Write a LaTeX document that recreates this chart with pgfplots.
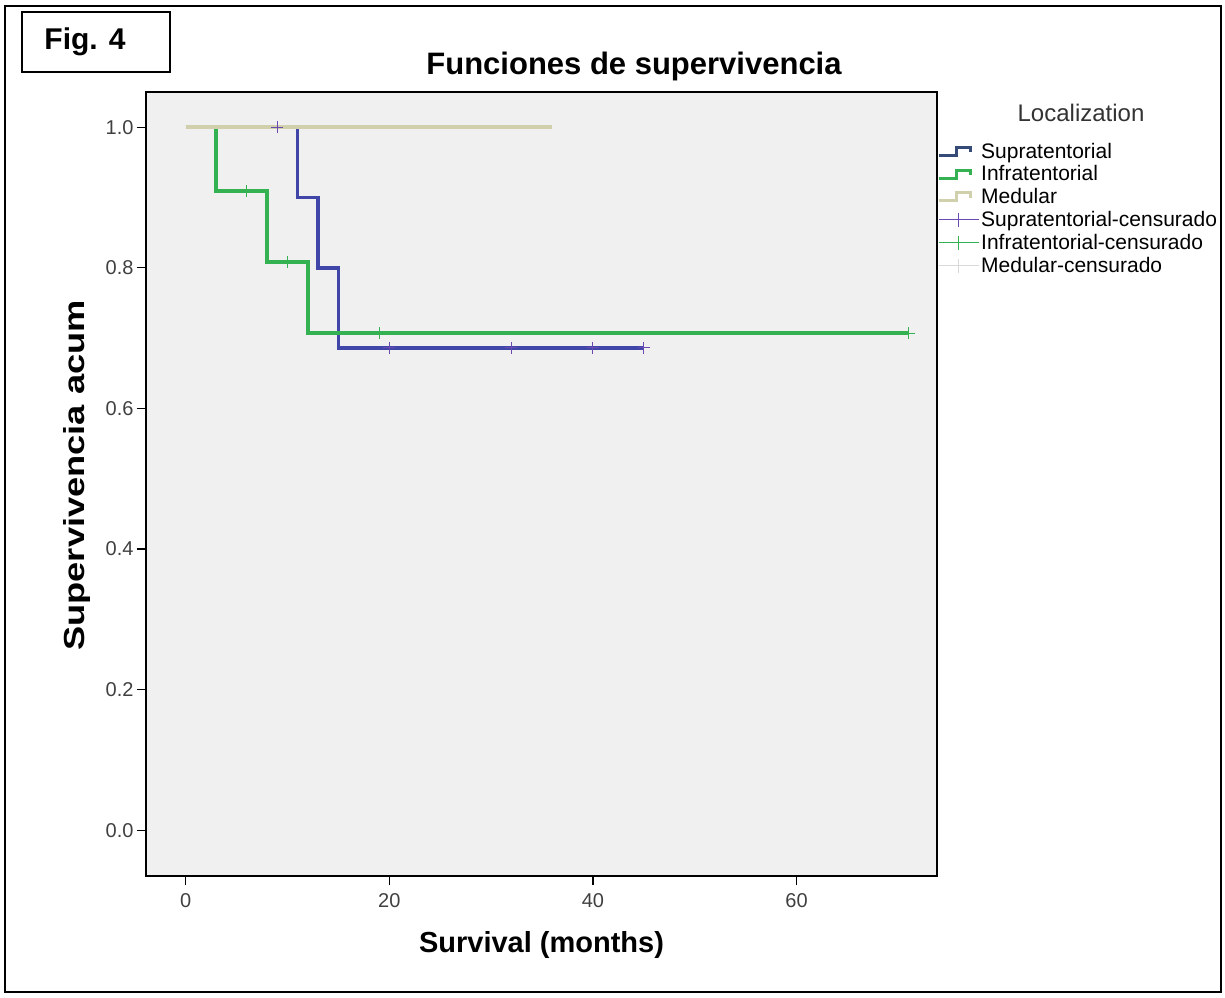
\documentclass[border=0pt]{standalone}
\usepackage{pgfplots}
\pgfplotsset{compat=1.18}
\usepackage{fontspec}
\setmainfont{Liberation Sans}
\definecolor{supra}{HTML}{4046A8}
\definecolor{supraleg}{HTML}{364A78}
\definecolor{suprac}{HTML}{6A4AB0}
\definecolor{infra}{HTML}{34B150}
\definecolor{medul}{HTML}{D0D0AC}
\definecolor{plotbg}{HTML}{F0F0F0}
\begin{document}
\begin{tikzpicture}[x=1pt,y=1pt]
% outer frame and figure tag
\draw[line width=2.5pt] (5,5) rectangle (1221,991);
\draw[line width=2pt] (22,925) rectangle (170,985);
\node[font=\fontsize{30}{32}\selectfont\bfseries] at (85,955) {Fig. 4};
\node[font=\fontsize{31}{33}\selectfont\bfseries] at (634,931) {Funciones de supervivencia};
\node[font=\fontsize{24}{26}\selectfont, text=black!80] at (1081,884) {Localization};

\begin{axis}[
  at={(146pt,121pt)}, anchor=south west,
  scale only axis, width=791pt, height=784pt,
  xmin=-3.9, xmax=73.8, ymin=-0.065, ymax=1.05,
  axis background/.style={fill=plotbg},
  axis line style={black, line width=1.5pt},
  xtick={0,20,40,60}, ytick={0,0.2,0.4,0.6,0.8,1.0},
  xtick pos=bottom, ytick pos=left,
  tick align=outside, major tick length=9pt,
  tick style={black, line width=1.2pt},
  /pgf/number format/assume math mode=true,
  yticklabel style={/pgf/number format/.cd, fixed, fixed zerofill, precision=1},
  tick label style={font=\fontsize{20}{22}\selectfont, text=black!75},
  xticklabel style={yshift=-5pt},
  xlabel={Survival (months)}, ylabel={\scalebox{1.25}[1]{Supervivencia acum}},
  label style={font=\fontsize{29}{31}\selectfont\bfseries},
  xlabel style={at={(axis description cs:0.5,0)}, anchor=center, yshift=-69pt},
  ylabel style={at={(axis description cs:-0.087,0.511)}, anchor=center},
  legend cell align=left,
  legend style={at={(axis description cs:1.0,0.938)}, anchor=north west,
    draw=none, fill=none, font=\fontsize{21}{23}\selectfont,
    row sep=2.2pt, inner sep=0pt},
]
% survival curves
\addplot[supra, line width=3.5pt, const plot, forget plot] coordinates {
(0,1) (11,0.9) (13,0.8) (15,0.686) (45,0.686)
};
\addplot[infra, line width=3.5pt, const plot, forget plot] coordinates {
(0,1) (3,0.909) (8,0.808) (12,0.707) (71,0.707)
};
\addplot[medul, line width=3.5pt, const plot, forget plot] coordinates {
(0,1) (36,1)
};
% censored cases
\addplot[only marks, mark=+, mark size=6pt, suprac, line width=1pt, forget plot] coordinates {
(9,1) (20,0.686) (32,0.686) (40,0.686) (45,0.686)
};
\addplot[only marks, mark=+, mark size=6pt, infra, line width=1pt, forget plot] coordinates {
(6,0.909) (10,0.808) (19,0.707) (71,0.707)
};

\addlegendimage{legend image code/.code={\draw[supraleg, line width=3pt] (0pt,-4pt) -- (18pt,-4pt) -- (18pt,4pt) -- (32pt,4pt) -- (32pt,-1pt);}}
\addlegendentry{Supratentorial}
\addlegendimage{legend image code/.code={\draw[infra, line width=3pt] (0pt,-4pt) -- (18pt,-4pt) -- (18pt,4pt) -- (32pt,4pt) -- (32pt,-1pt);}}
\addlegendentry{Infratentorial}
\addlegendimage{legend image code/.code={\draw[medul, line width=3pt] (0pt,-4pt) -- (18pt,-4pt) -- (18pt,4pt) -- (32pt,4pt) -- (32pt,-1pt);}}
\addlegendentry{Medular}
\addlegendimage{legend image code/.code={\draw[suprac, line width=1pt] (0pt,0pt) -- (40pt,0pt); \draw[suprac, line width=1pt] (20pt,-7pt) -- (20pt,7pt);}}
\addlegendentry{Supratentorial-censurado}
\addlegendimage{legend image code/.code={\draw[infra, line width=1pt] (0pt,0pt) -- (40pt,0pt); \draw[infra, line width=1pt] (20pt,-7pt) -- (20pt,7pt);}}
\addlegendentry{Infratentorial-censurado}
\addlegendimage{legend image code/.code={\draw[black!15, line width=1pt] (0pt,0pt) -- (40pt,0pt); \draw[black!15, line width=1pt] (20pt,-7pt) -- (20pt,7pt);}}
\addlegendentry{Medular-censurado}
\end{axis}
\pgfresetboundingbox
\path[use as bounding box] (0,0) rectangle (1225,997);
\end{tikzpicture}
\end{document}
